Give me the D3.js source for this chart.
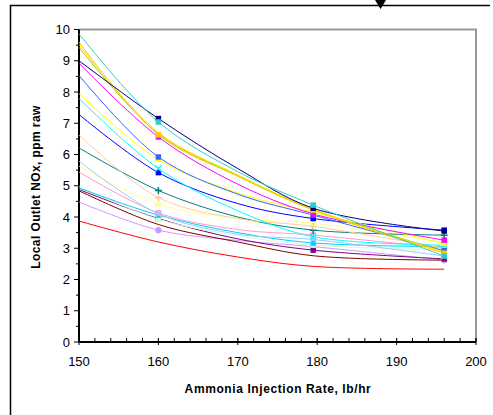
<!DOCTYPE html>
<html>
<head>
<meta charset="utf-8">
<script src="https://cdn.jsdelivr.net/npm/d3@7"></script>
<style>
  body { margin: 0; background: #fff; }
  text { font-family: "Liberation Sans", Arial, sans-serif; }
</style>
</head>
<body>
<div id="chart"></div>
<script>
// injection rates where each run was measured
const rates = [150, 160, 170, 179.5, 196];
const markerRates = [160, 179.5, 196];

// local outlet NOx (ppm raw), one array per probe location
const aqua        = [9.86, 7.04, 5.45, 4.38, 2.75];
const navy        = [9.00, 7.15, 5.55, 4.28, 3.55];
const gold        = [9.60, 6.63, 5.30, 4.22, 2.84];
const yellow2     = [9.52, 6.70, 5.35, 4.25, 2.88];
const lime        = [9.43, 6.66, 5.32, 4.24, 2.90];
const magenta     = [8.92, 6.56, 5.05, 4.10, 3.26];
const cornflower  = [8.53, 5.92, 4.73, 4.06, 2.92];
const yellow      = [7.95, 5.84, 4.77, 4.15, 3.15];
const cyan        = [7.79, 5.55, 4.20, 3.37, 3.10];
const blue        = [7.28, 5.42, 4.43, 3.95, 3.58];
const tan         = [6.62, 4.62, 3.95, 3.70, 3.00];
const teal        = [6.21, 4.85, 4.00, 3.58, 3.42];
const paleBlue    = [5.79, 4.10, 3.45, 3.28, 2.75];
const lightYellow = [5.63, 4.41, 3.95, 3.80, 3.18];
const rose        = [5.44, 4.13, 3.60, 3.42, 3.00];
const skyBlue     = [4.93, 4.06, 3.50, 3.17, 3.05];
const lightGreen  = [4.98, 3.93, 3.40, 3.10, 2.95];
const purple      = [4.88, 3.95, 3.30, 2.94, 2.66];
const darkRed     = [4.84, 3.76, 3.20, 2.76, 2.62];
const lavender    = [4.48, 3.58, 3.25, 3.05, 2.62];
const red         = [3.87, 3.20, 2.72, 2.42, 2.33];

const xTicks = [150, 160, 170, 180, 190, 200];
const yTicks = [0, 1, 2, 3, 4, 5, 6, 7, 8, 9, 10];

const series = [
  {values: red,         color: "#FF0000", marker: null},
  {values: lavender,    color: "#CC99FF", marker: "circle"},
  {values: darkRed,     color: "#800000", marker: null},
  {values: purple,      color: "#800080", marker: "square"},
  {values: lightGreen,  color: "#CCFFCC", marker: "square"},
  {values: skyBlue,     color: "#00CCFF", marker: "square"},
  {values: rose,        color: "#FF99CC", marker: "square"},
  {values: lightYellow, color: "#FFFF99", marker: "triangle"},
  {values: paleBlue,    color: "#99CCFF", marker: "x"},
  {values: teal,        color: "#008080", marker: "plus"},
  {values: tan,         color: "#FFCC99", marker: "plus"},
  {values: blue,        color: "#0000FF", marker: "square"},
  {values: cyan,        color: "#00FFFF", marker: "x"},
  {values: yellow,      color: "#FFFF00", marker: "triangle"},
  {values: cornflower,  color: "#3366FF", marker: "square"},
  {values: magenta,     color: "#FF00FF", marker: "square"},
  {values: lime,        color: "#99CC00", marker: null},
  {values: yellow2,     color: "#FFE400", marker: null},
  {values: gold,        color: "#FFCC00", marker: "square"},
  {values: navy,        color: "#000080", marker: "square"},
  {values: aqua,        color: "#33CCCC", marker: "square"}
];

const width = 493;
const height = 415;

const svg = d3.select("#chart")
              .append("svg")
              .attr("width", width)
              .attr("height", height);

// outer frame + the little arrow on top
svg.append("path")
   .attr("d", "M10.5,415 V5.5 H490")
   .attr("fill", "none")
   .attr("stroke", "#000")
   .attr("stroke-width", 1.5);
svg.append("path")
   .attr("d", "M375,0 L386,0 L380.5,9 Z")
   .attr("fill", "#000");

const x = d3.scaleLinear().domain([150, 200]).range([79, 476]);
const y = d3.scaleLinear().domain([0, 10]).range([342, 29.5]);

// gray plot border (top & right)
svg.append("path")
   .attr("d", `M${x(150)},${y(10)} H${x(200)} V${y(0)}`)
   .attr("fill", "none")
   .attr("stroke", "#999")
   .attr("stroke-width", 2);

// x axis
const xAxis = svg.append("g").attr("transform", `translate(0,${y(0)})`);
xAxis.append("line")
     .attr("x1", x(150)).attr("x2", x(200))
     .attr("stroke", "#000").attr("stroke-width", 2);
xAxis.selectAll(".minor")
     .data(d3.range(150, 201, 2))
     .join("line")
     .attr("x1", d => x(d)).attr("x2", d => x(d))
     .attr("y1", 0).attr("y2", -4)
     .attr("stroke", "#000");
xAxis.selectAll(".major")
     .data(xTicks)
     .join("line")
     .attr("x1", d => x(d)).attr("x2", d => x(d))
     .attr("y1", -4).attr("y2", 3)
     .attr("stroke", "#000");
xAxis.selectAll("text")
     .data(xTicks)
     .join("text")
     .attr("x", d => x(d))
     .attr("y", 24)
     .attr("text-anchor", "middle")
     .attr("font-size", 13)
     .text(d => d);

// y axis
const yAxis = svg.append("g").attr("transform", `translate(${x(150)},0)`);
yAxis.append("line")
     .attr("y1", y(0)).attr("y2", y(10))
     .attr("stroke", "#000").attr("stroke-width", 2);
yAxis.selectAll(".minor")
     .data(d3.range(0.5, 10, 1))
     .join("line")
     .attr("y1", d => y(d)).attr("y2", d => y(d))
     .attr("x1", -3).attr("x2", 0)
     .attr("stroke", "#000");
yAxis.selectAll(".major")
     .data(yTicks)
     .join("line")
     .attr("y1", d => y(d)).attr("y2", d => y(d))
     .attr("x1", -5).attr("x2", 0)
     .attr("stroke", "#000");
yAxis.selectAll("text")
     .data(yTicks)
     .join("text")
     .attr("x", -9)
     .attr("y", d => y(d) + 4.5)
     .attr("text-anchor", "end")
     .attr("font-size", 13)
     .text(d => d);

// axis titles
svg.append("text")
   .attr("x", 278)
   .attr("y", 393)
   .attr("text-anchor", "middle")
   .attr("font-size", 12)
   .attr("font-weight", "bold")
   .attr("letter-spacing", 0.6)
   .text("Ammonia Injection Rate, lb/hr");

svg.append("text")
   .attr("transform", "translate(40,187) rotate(-90)")
   .attr("text-anchor", "middle")
   .attr("font-size", 12)
   .attr("font-weight", "bold")
   .attr("letter-spacing", 0.4)
   .text("Local Outlet NOx, ppm raw");

// smoothed lines
const line = d3.line()
               .x((d, i) => x(rates[i]))
               .y(d => y(d))
               .curve(d3.curveCatmullRom.alpha(0.5));

svg.append("g")
   .selectAll("path")
   .data(series)
   .join("path")
   .attr("fill", "none")
   .attr("stroke", d => d.color)
   .attr("stroke-width", 1)
   .attr("d", d => line(d.values));

// markers at the measured rates
const stroked = {
  plus: "M-3.5,0H3.5M0,-3.5V3.5",
  x: "M-3,-3L3,3M-3,3L3,-3"
};
const filled = {
  circle: d3.symbolCircle,
  square: d3.symbolSquare,
  triangle: d3.symbolTriangle
};

const points = [];
series.forEach(s => {
  if (!s.marker) return;
  markerRates.forEach(r => {
    points.push({rate: r, value: s.values[rates.indexOf(r)], color: s.color, marker: s.marker});
  });
});

svg.append("g")
   .selectAll("path")
   .data(points)
   .join("path")
   .attr("transform", d => `translate(${x(d.rate)},${y(d.value)})`)
   .attr("d", d => stroked[d.marker] || d3.symbol(filled[d.marker], 30)())
   .attr("fill", d => stroked[d.marker] ? "none" : d.color)
   .attr("stroke", d => stroked[d.marker] ? d.color : "none")
   .attr("stroke-width", 1.5);
</script>
</body>
</html>
